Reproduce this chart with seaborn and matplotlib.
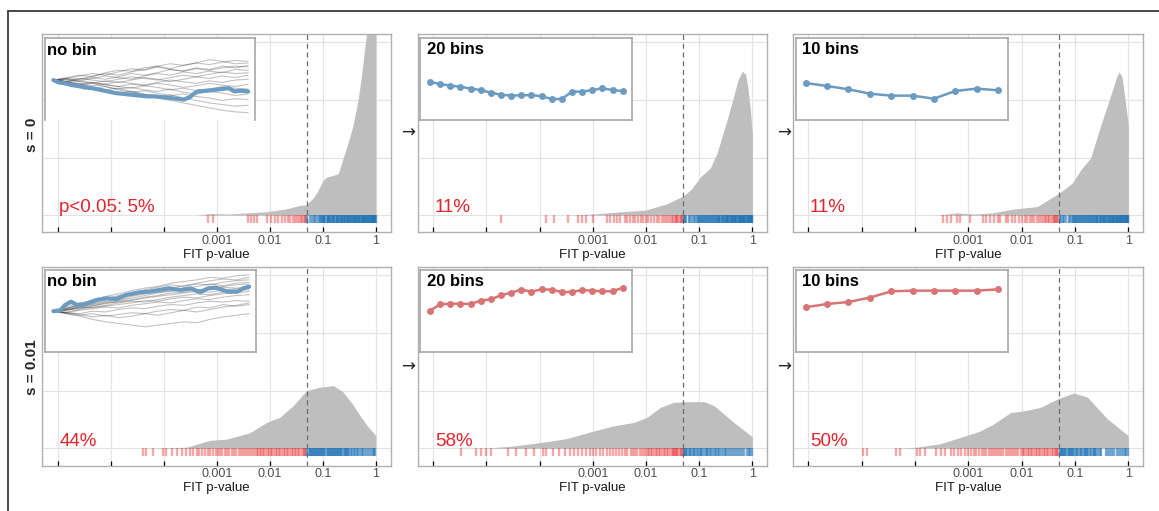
import numpy as np
import pandas as pd
import matplotlib
matplotlib.use("Agg")
import matplotlib.pyplot as plt
import seaborn as sns
from matplotlib.lines import Line2D

# ---------------- data (log10 of FIT p-values, densities in panel units) -------------
row_labels = ["s = 0", "s = 0.01"]
inset_titles = ["no bin", "20 bins", "10 bins"]
pct_labels = [["p<0.05: 5%", "11%", "11%"], ["44%", "58%", "50%"]]
tick_pos = [-6, -5, -4, -3, -2, -1, 0]
tick_labels = ["", "", "", "0.001", "0.01", "0.1", "1"]
p_threshold_log = np.log10(0.05)

# density curves
dens_x_r1c1 = [-3.4, -3.1, -2.8, -2.44, -2.06, -1.69, -1.43, -1.31, -1.18, -1.09, -1.0, -0.93, -0.81,
               -0.71, -0.62, -0.52, -0.43, -0.33, -0.27, -0.21, -0.14, -0.08, -0.03, 0.0]
dens_y_r1c1 = [0.0, 0.03, 0.02, 0.04, 0.06, 0.11, 0.17, 0.18, 0.3, 0.43, 0.6, 0.66, 0.69,
               0.72, 0.98, 1.27, 1.56, 2.03, 2.43, 2.9, 3.4, 3.7, 3.5, 3.1]
dens_x_r1c2 = [-3.5, -3.0, -2.6, -2.0, -1.6, -1.31, -1.16, -0.97, -0.79, -0.66, -0.47, -0.35, -0.27,
               -0.19, -0.13, -0.09, -0.04, 0.0]
dens_y_r1c2 = [0.0, 0.02, 0.05, 0.09, 0.2, 0.33, 0.44, 0.67, 0.82, 1.09, 1.67, 2.07, 2.35,
               2.5, 2.45, 2.25, 1.85, 1.4]
dens_x_r1c3 = [-3.6, -3.21, -2.9, -2.53, -2.21, -1.71, -1.3, -1.05, -0.89, -0.71, -0.52, -0.33, -0.22,
               -0.17, -0.12, -0.08, -0.04, 0.0]
dens_y_r1c3 = [0.0, 0.04, 0.02, 0.04, 0.1, 0.15, 0.38, 0.56, 0.79, 0.99, 1.55, 2.08, 2.4,
               2.49, 2.4, 2.14, 1.85, 1.55]
dens_x_r2c1 = [-4.4, -3.57, -3.13, -2.82, -2.38, -2.06, -1.81, -1.56, -1.31, -1.06, -0.8, -0.62,
               -0.45, -0.3, -0.15, 0.0]
dens_y_r2c1 = [0.0, 0.02, 0.14, 0.16, 0.27, 0.45, 0.54, 0.74, 1.0, 1.06, 1.09, 0.98,
               0.78, 0.57, 0.38, 0.22]
dens_x_r2c2 = [-5.5, -4.94, -4.5, -3.99, -3.49, -2.99, -2.61, -2.23, -1.98, -1.73, -1.48, -1.23,
               -0.91, -0.72, -0.35, 0.0]
dens_y_r2c2 = [0.0, 0.01, 0.04, 0.1, 0.17, 0.3, 0.39, 0.45, 0.54, 0.71, 0.8, 0.81,
               0.81, 0.74, 0.45, 0.2]
dens_x_r2c3 = [-4.41, -3.97, -3.53, -3.15, -2.78, -2.53, -2.21, -1.96, -1.65, -1.3, -1.02, -0.77,
               -0.39, 0.0]
dens_y_r2c3 = [0.0, 0.02, 0.08, 0.19, 0.3, 0.42, 0.62, 0.65, 0.71, 0.87, 0.96, 0.89,
               0.51, 0.22]

# rug values (log10 p), significant (red) and non-significant (blue)
rug_red_r1c1 = [-3.16, -3.07, -2.42, -2.36, -2.3, -2.25, -2.06, -1.98, -1.9, -1.84, -1.77, -1.72,
                -1.66, -1.61, -1.56, -1.52, -1.48, -1.45, -1.42, -1.39, -1.36, -1.34, -1.32]
rug_blue_r1c1 = [-1.29, -1.25, -1.21, -1.17, -1.14, -1.11, -1.08, -1.06, -1.04, -1.02, -1.0, -0.98,
                 -0.97, -0.95, -0.93, -0.91, -0.9, -0.88, -0.86, -0.84, -0.83, -0.81, -0.79, -0.78,
                 -0.76, -0.74, -0.73, -0.71, -0.69, -0.68, -0.66, -0.64, -0.63, -0.61, -0.6, -0.58,
                 -0.57, -0.55, -0.53, -0.52, -0.5, -0.49, -0.47, -0.46, -0.44, -0.43, -0.41, -0.4,
                 -0.38, -0.37, -0.35, -0.34, -0.32, -0.31, -0.3, -0.28, -0.27, -0.25, -0.24, -0.22,
                 -0.21, -0.2, -0.18, -0.17, -0.15, -0.14, -0.13, -0.11, -0.1, -0.09, -0.07, -0.06,
                 -0.05, -0.04, -0.03, -0.02, -0.01, 0.0]
rug_red_r1c2 = [-4.73, -3.87, -3.72, -3.47, -3.27, -3.2, -3.13, -3.0, -2.74, -2.68, -2.6, -2.55,
                -2.48, -2.4, -2.36, -2.3, -2.25, -2.2, -2.15, -2.1, -2.05, -2.0, -1.96, -1.9,
                -1.85, -1.8, -1.75, -1.7, -1.66, -1.62, -1.58, -1.55, -1.52, -1.49, -1.46, -1.43,
                -1.41, -1.39, -1.37, -1.35, -1.33, -1.31]
rug_blue_r1c2 = [-1.29, -1.26, -1.24, -1.2, -1.17, -1.13, -1.1, -1.07, -1.05, -1.03, -1.01, -0.99,
                 -0.97, -0.95, -0.93, -0.91, -0.89, -0.87, -0.85, -0.83, -0.81, -0.8, -0.78, -0.76,
                 -0.74, -0.72, -0.7, -0.69, -0.67, -0.65, -0.63, -0.62, -0.6, -0.58, -0.57, -0.55,
                 -0.53, -0.52, -0.5, -0.48, -0.47, -0.45, -0.44, -0.42, -0.41, -0.39, -0.38, -0.36,
                 -0.35, -0.33, -0.32, -0.3, -0.29, -0.27, -0.26, -0.24, -0.23, -0.22, -0.2, -0.19,
                 -0.17, -0.16, -0.15, -0.13, -0.12, -0.11, -0.09, -0.08, -0.07, -0.05, -0.04, -0.03,
                 -0.02, -0.01, 0.0]
rug_red_r1c3 = [-3.47, -3.4, -3.33, -3.22, -3.15, -2.97, -2.72, -2.66, -2.6, -2.52, -2.45, -2.4,
                -2.3, -2.25, -2.18, -2.12, -2.05, -2.0, -1.94, -1.9, -1.85, -1.8, -1.76, -1.72,
                -1.68, -1.64, -1.6, -1.57, -1.54, -1.51, -1.48, -1.45, -1.42, -1.4, -1.38, -1.36,
                -1.34, -1.32]
rug_blue_r1c3 = [-1.29, -1.27, -1.23, -1.2, -1.16, -1.12, -1.09, -1.06, -1.04, -1.02, -1.0, -0.98,
                 -0.96, -0.94, -0.92, -0.9, -0.88, -0.86, -0.85, -0.83, -0.81, -0.79, -0.77, -0.75,
                 -0.73, -0.72, -0.7, -0.68, -0.66, -0.65, -0.63, -0.61, -0.59, -0.58, -0.56, -0.54,
                 -0.53, -0.51, -0.49, -0.48, -0.46, -0.45, -0.43, -0.41, -0.4, -0.38, -0.37, -0.35,
                 -0.34, -0.32, -0.31, -0.29, -0.28, -0.26, -0.25, -0.23, -0.22, -0.21, -0.19, -0.18,
                 -0.16, -0.15, -0.14, -0.12, -0.11, -0.1, -0.08, -0.07, -0.06, -0.05, -0.03, -0.02,
                 -0.01, 0.0]
rug_red_r2c1 = [-4.39, -4.33, -4.2, -4.02, -3.96, -3.84, -3.75, -3.66, -3.58, -3.51, -3.44, -3.38,
                -3.33, -3.27, -3.22, -3.17, -3.12, -3.07, -3.02, -2.98, -2.94, -2.9, -2.85, -2.8,
                -2.76, -2.72, -2.67, -2.63, -2.59, -2.55, -2.51, -2.47, -2.43, -2.39, -2.35, -2.31,
                -2.28, -2.25, -2.22, -2.19, -2.16, -2.13, -2.1, -2.07, -2.04, -2.01, -1.98, -1.95,
                -1.92, -1.89, -1.86, -1.83, -1.8, -1.77, -1.74, -1.71, -1.68, -1.65, -1.62, -1.59,
                -1.56, -1.53, -1.5, -1.47, -1.44, -1.41, -1.38, -1.35, -1.33, -1.31]
rug_blue_r2c1 = [-1.29, -1.27, -1.25, -1.23, -1.21, -1.19, -1.17, -1.15, -1.13, -1.11, -1.09, -1.07,
                 -1.05, -1.03, -1.01, -0.99, -0.97, -0.95, -0.93, -0.91, -0.89, -0.87, -0.85, -0.83,
                 -0.81, -0.79, -0.77, -0.75, -0.73, -0.71, -0.69, -0.67, -0.65, -0.63, -0.61, -0.59,
                 -0.57, -0.55, -0.52, -0.5, -0.47, -0.45, -0.42, -0.39, -0.36, -0.33, -0.3, -0.27,
                 -0.24, -0.21, -0.17, -0.13, -0.1, -0.06, -0.03, -0.01]
rug_red_r2c2 = [-5.47, -5.19, -5.1, -5.0, -4.92, -4.59, -4.45, -4.25, -4.1, -3.93, -3.87, -3.74,
                -3.63, -3.52, -3.43, -3.35, -3.28, -3.2, -3.13, -3.06, -3.0, -2.93, -2.87, -2.8,
                -2.74, -2.68, -2.62, -2.56, -2.5, -2.45, -2.4, -2.35, -2.29, -2.24, -2.2, -2.16,
                -2.12, -2.08, -2.04, -2.0, -1.97, -1.94, -1.91, -1.88, -1.85, -1.82, -1.79, -1.76,
                -1.73, -1.7, -1.67, -1.64, -1.61, -1.58, -1.55, -1.52, -1.49, -1.47, -1.45, -1.43,
                -1.41, -1.39, -1.37, -1.35, -1.33, -1.31]
rug_blue_r2c2 = [-1.29, -1.27, -1.25, -1.22, -1.2, -1.17, -1.15, -1.12, -1.1, -1.07, -1.05, -1.02,
                 -0.99, -0.97, -0.94, -0.91, -0.88, -0.85, -0.83, -0.8, -0.77, -0.74, -0.71, -0.68,
                 -0.65, -0.62, -0.59, -0.56, -0.52, -0.49, -0.46, -0.42, -0.38, -0.35, -0.31, -0.27,
                 -0.23, -0.19, -0.15, -0.11, -0.07, -0.04, -0.01]
rug_red_r2c3 = [-4.98, -4.9, -4.35, -4.28, -3.97, -3.9, -3.82, -3.6, -3.52, -3.44, -3.33, -3.27,
                -3.2, -3.14, -3.07, -3.0, -2.95, -2.9, -2.85, -2.8, -2.75, -2.7, -2.66, -2.62,
                -2.58, -2.54, -2.5, -2.46, -2.42, -2.38, -2.34, -2.3, -2.26, -2.22, -2.18, -2.14,
                -2.1, -2.06, -2.02, -1.98, -1.95, -1.92, -1.89, -1.86, -1.83, -1.8, -1.77, -1.74,
                -1.71, -1.68, -1.65, -1.62, -1.59, -1.56, -1.53, -1.5, -1.47, -1.44, -1.41, -1.38,
                -1.35, -1.33, -1.31]
rug_blue_r2c3 = [-1.29, -1.27, -1.25, -1.23, -1.21, -1.19, -1.17, -1.14, -1.12, -1.1, -1.08, -1.05,
                 -1.03, -1.01, -0.98, -0.96, -0.94, -0.91, -0.89, -0.87, -0.84, -0.82, -0.8, -0.77,
                 -0.75, -0.72, -0.7, -0.67, -0.65, -0.62, -0.6, -0.57, -0.54, -0.51, -0.41, -0.38,
                 -0.34, -0.3, -0.26, -0.22, -0.18, -0.14, -0.1, -0.07, -0.04, -0.01]

# inset trajectories (time fraction t, frequency as fraction of inset height)
traj_t_r1 = [0, 0.03, 0.06, 0.09, 0.12, 0.16, 0.2, 0.24, 0.28, 0.32, 0.36, 0.4, 0.44, 0.48, 0.52,
             0.56, 0.6, 0.64, 0.67, 0.7, 0.72, 0.74, 0.79, 0.83, 0.86, 0.9, 0.93, 0.96, 1.0]
traj_v_r1 = [0.49, 0.46, 0.45, 0.43, 0.42, 0.4, 0.39, 0.37, 0.35, 0.33, 0.32, 0.31, 0.3, 0.29, 0.29,
             0.28, 0.27, 0.26, 0.25, 0.28, 0.32, 0.35, 0.36, 0.37, 0.38, 0.39, 0.35, 0.36, 0.35]
traj_t_r2 = [0, 0.035, 0.06, 0.09, 0.12, 0.16, 0.22, 0.27, 0.32, 0.37, 0.44, 0.49, 0.54, 0.59, 0.65,
             0.7, 0.75, 0.79, 0.83, 0.89, 0.94, 0.97, 1.0]
traj_v_r2 = [0.5, 0.51, 0.575, 0.615, 0.575, 0.583, 0.636, 0.656, 0.648, 0.696, 0.729, 0.737, 0.757,
             0.777, 0.757, 0.777, 0.729, 0.777, 0.785, 0.737, 0.737, 0.777, 0.798]
other_t = [0, 0.067, 0.133, 0.2, 0.267, 0.333, 0.4, 0.467, 0.533, 0.6, 0.667, 0.733, 0.8, 0.867, 0.933, 1.0]
others_r1 = [
    [0.49, 0.52, 0.55, 0.53, 0.58, 0.61, 0.60, 0.64, 0.66, 0.63, 0.67, 0.70, 0.68, 0.71, 0.73, 0.72],
    [0.49, 0.51, 0.50, 0.54, 0.57, 0.55, 0.59, 0.62, 0.66, 0.69, 0.67, 0.70, 0.74, 0.72, 0.69, 0.70],
    [0.49, 0.47, 0.50, 0.52, 0.50, 0.53, 0.57, 0.55, 0.58, 0.62, 0.60, 0.63, 0.61, 0.64, 0.66, 0.65],
    [0.49, 0.50, 0.48, 0.51, 0.54, 0.52, 0.50, 0.54, 0.57, 0.55, 0.59, 0.57, 0.60, 0.58, 0.62, 0.61],
    [0.49, 0.48, 0.51, 0.49, 0.47, 0.50, 0.53, 0.51, 0.49, 0.52, 0.55, 0.53, 0.56, 0.59, 0.57, 0.58],
    [0.49, 0.50, 0.47, 0.45, 0.48, 0.46, 0.49, 0.52, 0.50, 0.47, 0.50, 0.53, 0.51, 0.54, 0.52, 0.55],
    [0.49, 0.47, 0.48, 0.46, 0.44, 0.47, 0.45, 0.43, 0.46, 0.49, 0.47, 0.45, 0.48, 0.46, 0.49, 0.50],
    [0.49, 0.46, 0.44, 0.46, 0.43, 0.41, 0.44, 0.42, 0.45, 0.43, 0.40, 0.42, 0.45, 0.43, 0.41, 0.44],
    [0.49, 0.47, 0.45, 0.42, 0.44, 0.41, 0.39, 0.42, 0.40, 0.37, 0.39, 0.36, 0.38, 0.41, 0.39, 0.38],
    [0.49, 0.46, 0.43, 0.45, 0.41, 0.38, 0.40, 0.37, 0.35, 0.38, 0.34, 0.32, 0.35, 0.33, 0.30, 0.32],
    [0.49, 0.45, 0.42, 0.39, 0.41, 0.37, 0.34, 0.36, 0.33, 0.30, 0.32, 0.29, 0.27, 0.24, 0.26, 0.25],
    [0.49, 0.46, 0.44, 0.40, 0.37, 0.39, 0.35, 0.32, 0.29, 0.31, 0.27, 0.24, 0.21, 0.19, 0.17, 0.18],
    [0.49, 0.47, 0.43, 0.40, 0.36, 0.33, 0.35, 0.31, 0.27, 0.24, 0.21, 0.18, 0.15, 0.12, 0.10, 0.09],
    [0.49, 0.51, 0.54, 0.57, 0.55, 0.59, 0.63, 0.61, 0.65, 0.62, 0.60, 0.64, 0.62, 0.66, 0.64, 0.67],
]
others_r2 = [
    [0.50, 0.55, 0.60, 0.63, 0.68, 0.71, 0.75, 0.78, 0.80, 0.84, 0.86, 0.88, 0.91, 0.90, 0.93, 0.94],
    [0.50, 0.54, 0.57, 0.62, 0.65, 0.69, 0.72, 0.76, 0.79, 0.82, 0.80, 0.84, 0.87, 0.89, 0.88, 0.91],
    [0.50, 0.53, 0.58, 0.60, 0.64, 0.67, 0.70, 0.72, 0.76, 0.78, 0.81, 0.83, 0.82, 0.85, 0.87, 0.88],
    [0.50, 0.52, 0.55, 0.59, 0.62, 0.64, 0.68, 0.71, 0.73, 0.75, 0.78, 0.80, 0.83, 0.81, 0.84, 0.85],
    [0.50, 0.53, 0.56, 0.58, 0.61, 0.63, 0.66, 0.69, 0.72, 0.74, 0.76, 0.75, 0.78, 0.80, 0.82, 0.83],
    [0.50, 0.51, 0.54, 0.57, 0.59, 0.62, 0.64, 0.67, 0.69, 0.72, 0.73, 0.76, 0.77, 0.79, 0.78, 0.80],
    [0.50, 0.52, 0.53, 0.56, 0.60, 0.61, 0.63, 0.66, 0.68, 0.70, 0.72, 0.74, 0.73, 0.76, 0.77, 0.78],
    [0.50, 0.51, 0.55, 0.54, 0.57, 0.60, 0.62, 0.61, 0.64, 0.67, 0.69, 0.71, 0.70, 0.73, 0.75, 0.76],
    [0.50, 0.49, 0.52, 0.55, 0.56, 0.58, 0.60, 0.63, 0.62, 0.65, 0.67, 0.66, 0.69, 0.71, 0.72, 0.74],
    [0.50, 0.48, 0.51, 0.53, 0.55, 0.54, 0.57, 0.59, 0.61, 0.60, 0.63, 0.65, 0.64, 0.67, 0.69, 0.70],
    [0.50, 0.48, 0.47, 0.50, 0.49, 0.52, 0.54, 0.53, 0.56, 0.58, 0.57, 0.60, 0.62, 0.61, 0.63, 0.62],
    [0.50, 0.47, 0.45, 0.47, 0.44, 0.46, 0.48, 0.47, 0.50, 0.52, 0.51, 0.55, 0.54, 0.58, 0.56, 0.58],
    [0.50, 0.47, 0.44, 0.40, 0.37, 0.35, 0.33, 0.31, 0.33, 0.35, 0.37, 0.36, 0.40, 0.43, 0.45, 0.47],
    [0.50, 0.48, 0.46, 0.43, 0.45, 0.42, 0.44, 0.47, 0.45, 0.48, 0.51, 0.49, 0.52, 0.55, 0.57, 0.60],
]
bins20_r1 = [0.465, 0.441, 0.42, 0.408, 0.384, 0.367, 0.335, 0.31, 0.298, 0.302, 0.306, 0.29, 0.257,
             0.257, 0.347, 0.347, 0.367, 0.388, 0.367, 0.355]
bins10_r1 = [0.453, 0.416, 0.376, 0.322, 0.298, 0.298, 0.261, 0.355, 0.384, 0.363]
bins20_r2 = [0.506, 0.583, 0.591, 0.591, 0.587, 0.628, 0.644, 0.692, 0.725, 0.761, 0.737, 0.765,
             0.761, 0.733, 0.733, 0.757, 0.749, 0.741, 0.741, 0.785]
bins10_r2 = [0.547, 0.587, 0.611, 0.664, 0.741, 0.749, 0.749, 0.749, 0.749, 0.765]

# ---------------- styling ----------------
sns.set_theme(style="white")
plt.rcParams["font.family"] = ["Liberation Sans", "DejaVu Sans"]

W, H = 1159, 511
fig = plt.figure(figsize=(W / 100, H / 100), dpi=100)


def rect(x0, y0, x1, y1):
    return [x0 / W, 1 - y1 / H, (x1 - x0) / W, (y1 - y0) / H]


col_px = [(42.3, 390.7), (417.7, 767.3), (792.7, 1143.3)]
row_px = [(34.3, 232.5), (267.3, 465.7)]
inset_px = [[(45, 38.5, 255, 120), (420.3, 38.3, 632.3, 120), (796, 38.3, 1007.7, 120)],
            [(45, 270, 256, 352.3), (420.3, 270, 632.3, 352.3), (796, 270, 1007.7, 352.3)]]

dens = [[(dens_x_r1c1, dens_y_r1c1), (dens_x_r1c2, dens_y_r1c2), (dens_x_r1c3, dens_y_r1c3)],
        [(dens_x_r2c1, dens_y_r2c1), (dens_x_r2c2, dens_y_r2c2), (dens_x_r2c3, dens_y_r2c3)]]
rugs = [[(rug_red_r1c1, rug_blue_r1c1), (rug_red_r1c2, rug_blue_r1c2), (rug_red_r1c3, rug_blue_r1c3)],
        [(rug_red_r2c1, rug_blue_r2c1), (rug_red_r2c2, rug_blue_r2c2), (rug_red_r2c3, rug_blue_r2c3)]]
bins = [[None, bins20_r1, bins10_r1], [None, bins20_r2, bins10_r2]]
main_traj = [(traj_t_r1, traj_v_r1), (traj_t_r2, traj_v_r2)]
others = [others_r1, others_r2]
TRAJ_BLUE = "#6c9bc2"
bin_cols = ["#6c9bc2", "#d97474"]
RED = "#e31a1c"
BLUE = "#1f72b4"

for r in range(2):
    for c in range(3):
        x0, x1 = col_px[c]
        y0, y1 = row_px[r]
        ax = fig.add_axes(rect(x0, y0, x1, y1))
        ax.set_facecolor("white")
        ax.set_xlim(-6.29, 0.28)
        ax.set_ylim(-0.3, 3.14)
        ax.set_axisbelow(True)
        ax.grid(True, color="#e3e3e3", lw=0.85)
        ax.set_xticks(tick_pos)
        ax.set_xticklabels(tick_labels)
        ax.set_yticks([0, 1, 2, 3])
        ax.tick_params(axis="y", left=False, length=0, labelleft=False)
        ax.tick_params(axis="x", bottom=True, direction="in", length=3.8, width=0.9, color="black",
                       pad=2.0, labelsize=9, labelcolor="#4d4d4d")
        for s in ax.spines.values():
            s.set_color("#b0b0b0")
            s.set_linewidth(1.0)
        ax.set_xlabel("FIT p-value", fontsize=9.5, color="#1a1a1a", labelpad=1.0)
        ax.set_ylabel("")

        dx, dy = dens[r][c]
        ax.fill_between(dx, 0, dy, color="#bebebe", lw=0, zorder=2)
        ax.axvline(p_threshold_log, color="#6e6e6e", lw=0.9, ls=(0, (4, 3)), zorder=3)
        red, blue = rugs[r][c]
        ax.vlines(red, -0.13, 0, colors=RED, alpha=0.38, lw=1.7, zorder=4)
        ax.vlines(blue, -0.13, 0, colors=BLUE, alpha=0.6, lw=1.7, zorder=4)
        ax.text(-5.97, 0.05, pct_labels[r][c], color="#e3242b", fontsize=13.5,
                ha="left", va="baseline", zorder=5)

        # inset
        ix0, iy0, ix1, iy1 = inset_px[r][c]
        ins = fig.add_axes(rect(ix0, iy0, ix1, iy1))
        ins.set_facecolor("white")
        ins.set_xticks([])
        ins.set_yticks([])
        for s in ins.spines.values():
            s.set_color("#a0a0a0")
            s.set_linewidth(1.1)
        ins.set_ylim(0, 1)
        if c == 0:
            if r == 0:
                ins.spines["bottom"].set_visible(False)
            ins.set_xlim(-0.043, 1.035)
            rows = []
            for k, vals in enumerate(others[r]):
                for t, v in zip(other_t, vals):
                    rows.append((k, t, v))
            df = pd.DataFrame(rows, columns=["traj", "t", "v"])
            sns.lineplot(data=df, x="t", y="v", units="traj", estimator=None, color="black",
                         alpha=0.24, lw=0.8, ax=ins, legend=False)
            tt, vv = main_traj[r]
            sns.lineplot(x=tt, y=vv, color=TRAJ_BLUE, lw=3.0, ax=ins, sort=False)
            tx = 0.01
        else:
            vals = bins[r][c]
            n = len(vals)
            idx = np.arange(1, n + 1)
            span = n - 1
            ins.set_xlim(1 - 0.05 * span, n + 0.05 * span)
            sns.lineplot(x=idx, y=vals, color=bin_cols[r], lw=1.8, marker="o", markersize=5,
                         markeredgewidth=0, ax=ins)
            tx = 0.03
        ins.set_xlabel("")
        ins.set_ylabel("")
        ins.text(tx, 0.95, inset_titles[c], transform=ins.transAxes, fontsize=12,
                 fontweight="bold", ha="left", va="top", color="black")

# arrows between panels
for ry in (133, 366.7):
    for ax_ in (407.5, 783.7):
        fig.text(ax_ / W, 1 - ry / H, "\u2192", fontsize=12, ha="center", va="center",
                 color="#222222", family=["DejaVu Sans"])

# row labels
fig.text(32 / W, 1 - 135 / H, row_labels[0], rotation=90, fontsize=11, fontweight="bold",
         ha="center", va="center")
fig.text(32 / W, 1 - 367 / H, row_labels[1], rotation=90, fontsize=11, fontweight="bold",
         ha="center", va="center")

# outer frame (partial)
fig.add_artist(Line2D([8 / W, 8 / W], [0, 1 - 11 / H], transform=fig.transFigure,
                      color="#3c3c3c", lw=1.3))
fig.add_artist(Line2D([8 / W, 1], [1 - 11 / H, 1 - 11 / H], transform=fig.transFigure,
                      color="#3c3c3c", lw=1.3))

fig.savefig("out.png", dpi=100, facecolor="white")
